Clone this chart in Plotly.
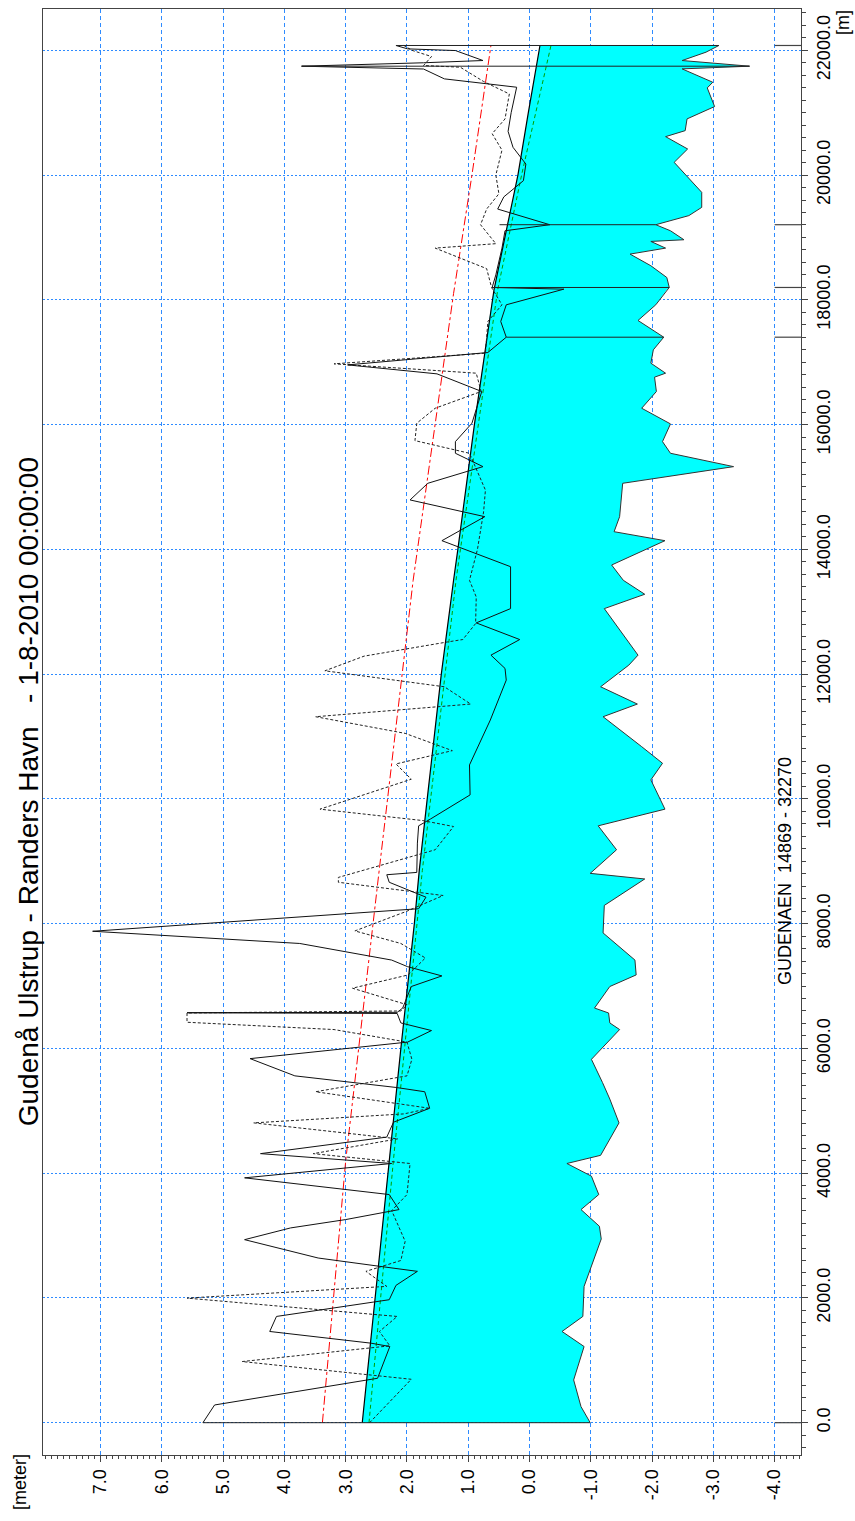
import plotly.graph_objects as go

# Chainage [m] and level [meter] of each profile line
water_chain = [0, 2000, 4220, 6000, 8000, 8849, 10000, 12000, 13504, 14000, 16000,
               18000, 18161, 19200, 20000, 21000, 22077]
water_level = [2.73, 2.52, 2.29, 2.10, 1.88, 1.80, 1.67, 1.44, 1.24, 1.17, 0.90,
               0.61, 0.58, 0.36, 0.19, 0.02, -0.17]

bed_chain = [0, 257, 685, 1221, 1462, 1703, 2185, 2506, 2945, 3149, 3416, 3657, 3952,
             4155, 4286, 4806, 5188, 5454, 5825, 6302, 6408, 6568, 6647, 6992, 7178,
             7416, 7851, 8292, 8716, 8806, 9184, 9568, 9835, 10304, 10571, 10837,
             11317, 11520, 11797, 12144, 12304, 13050, 13280, 13504, 13749, 14139,
             14283, 14524, 15059, 15326, 15540, 15727, 16011, 16262, 16530, 16760,
             16824, 16984, 17198, 17401, 17669, 17920, 18161, 18198, 18358, 18546,
             18733, 18829, 18936, 18963, 19107, 19204, 19350, 19482, 19723, 20204,
             20418, 20616, 20712, 20900, 21098, 21397, 21488, 21702, 21745, 21836,
             21970, 22077]
bed_level = [-0.99, -0.84, -0.72, -0.89, -0.53, -0.87, -0.89, -1.01, -1.17, -1.14,
             -0.84, -1.13, -1.01, -0.61, -1.16, -1.46, -1.31, -1.19, -1.01, -1.47,
             -1.31, -1.29, -1.06, -1.31, -1.74, -1.72, -1.20, -1.22, -1.88, -0.99,
             -1.42, -1.12, -2.21, -1.98, -2.17, -1.83, -1.20, -1.76, -1.16, -1.62,
             -1.77, -1.22, -1.88, -1.53, -1.34, -2.21, -1.38, -1.47, -1.52, -3.33,
             -2.30, -2.17, -2.30, -1.83, -2.07, -2.04, -2.22, -1.98, -2.02, -2.19,
             -1.77, -2.06, -2.24, -2.28, -2.24, -1.98, -1.64, -2.22, -1.98, -2.52,
             -2.30, -2.06, -2.60, -2.81, -2.81, -2.36, -2.58, -2.22, -2.54, -2.57,
             -3.02, -2.90, -2.99, -2.49, -3.59, -2.49, -2.88, -3.09]

left_chain = [0, 284, 712, 1221, 1275, 1462, 1703, 1971, 2201, 2426, 2506, 2640, 2934,
              3122, 3256, 3416, 3657, 3925, 4155, 4313, 4578, 4817, 5040, 5305, 5374,
              5560, 5836, 6101, 6286, 6408, 6560, 6565, 6572, 6578, 6647, 6992, 7162,
              7310, 7416, 7682, 7878, 8239, 8424, 8663, 8784, 8821, 9291, 9568, 9675,
              10064, 10544, 11264, 11904, 12091, 12304, 12554, 12821, 13050, 13504,
              13722, 14139, 14524, 14792, 15059, 15326, 15540, 15727, 16022, 16530,
              16813, 16957, 17155, 17401, 17653, 17920, 18171, 18198, 18400, 18829,
              19107, 19204, 19455, 19650, 19910, 20177, 20445, 20700, 21000, 21408,
              21504, 21542, 21700, 21745, 21800, 21836, 21996, 22023, 22077]
left_level = [5.33, 5.14, 2.48, 2.28, 2.59, 4.24, 4.13, 2.29, 2.18, 1.83, 2.44, 3.45,
              4.65, 3.90, 3.00, 2.13, 2.29, 4.65, 2.25, 4.39, 2.33, 2.22, 1.63, 1.71,
              2.18, 3.83, 4.56, 1.99, 1.60, 2.10, 2.16, 5.59, 5.59, 2.16, 2.07, 1.93,
              1.43, 1.99, 2.25, 3.75, 7.13, 1.81, 1.69, 2.29, 2.33, 1.84, 1.83, 1.81,
              1.62, 0.97, 0.98, 0.64, 0.38, 0.40, 0.63, 0.16, 0.87, 0.31, 0.31, 0.31,
              1.43, 0.73, 1.95, 1.66, 0.76, 1.21, 1.21, 0.94, 0.78, 1.51, 2.97, 0.68,
              0.38, 0.47, 0.38, -0.56, 0.61, 0.55, 0.45, 0.40, -0.33, 0.52, 0.42, 0.10,
              0.06, 0.27, 0.35, 0.30, 0.21, 1.02, 1.39, 1.73, 3.72, 1.73, 0.76, 1.21,
              1.99, 2.18]

right_chain = [0, 696, 980, 1232, 1462, 1703, 1997, 2185, 2426, 2600, 2908, 3400, 3657,
               4155, 4313, 4550, 4806, 4950, 5040, 5305, 5560, 5825, 6101, 6302, 6419,
               6568, 6600, 6700, 6965, 7178, 7450, 7682, 7883, 8200, 8451, 8663, 8741,
               9184, 9557, 9653, 9835, 10315, 10560, 10773, 11050, 11317, 11520, 11797,
               12053, 12288, 12517, 12554, 12810, 13237, 13504, 14000, 14600, 14950,
               15540, 15743, 16022, 16262, 16530, 16824, 16974, 17145, 17653, 17920,
               18198, 18500, 18829, 18900, 19204, 19455, 19700, 20000, 20400, 20663,
               20900, 21300, 21500, 21729, 21756, 21900, 22000, 22077]
right_level = [2.61, 1.93, 4.69, 2.28, 2.45, 2.16, 5.59, 2.33, 2.67, 2.10, 2.03, 2.25,
               2.00, 1.95, 3.53, 2.15, 4.50, 2.05, 1.63, 3.49, 2.00, 1.92, 2.00, 3.19,
               5.59, 5.59, 2.10, 2.00, 2.89, 1.98, 1.70, 2.10, 2.85, 2.00, 1.41, 3.12,
               3.12, 1.54, 1.24, 1.75, 3.42, 1.93, 2.18, 1.26, 2.03, 3.49, 0.96, 1.39,
               3.34, 2.70, 1.33, 1.09, 0.88, 0.87, 0.98, 0.85, 0.75, 0.72, 0.98, 1.87,
               1.84, 1.54, 0.79, 0.87, 3.19, 0.72, 0.68, 0.45, 0.62, 0.70, 1.54, 0.55,
               0.80, 0.70, 0.50, 0.55, 0.45, 0.61, 0.40, 0.33, 0.75, 1.13, 1.73, 1.60,
               1.92, 2.05]

red_chain = [0, 4200, 8800, 13500, 18100, 20000, 22077]
red_level = [3.38, 3.00, 2.46, 1.90, 1.24, 0.94, 0.63]

green_chain = [0, 4220, 8849, 13504, 18161, 20000, 22077]
green_level = [2.62, 2.22, 1.75, 1.20, 0.52, 0.13, -0.35]

# Vertical section / structure lines: chainage, top level, bed level
struct_chain = [0, 17401, 18198, 19204, 21745, 22077]
struct_top = [5.33, 0.38, 0.61, 0.49, 3.72, 2.18]
struct_bed = [-0.99, -2.19, -2.28, -2.06, -3.59, -3.09]
marker_chain = [0, 17401, 18198, 19204, 22077]

x_range = [7.94, -4.43]
y_range = [-518, 22662]
x_ticks = [7, 6, 5, 4, 3, 2, 1, 0, -1, -2, -3, -4]
x_ticktext = [f"{v:.1f}" for v in x_ticks]
y_ticks = list(range(0, 22001, 2000))
y_ticktext = [f"{v:.1f}" for v in y_ticks]

FONT = "Arial, Liberation Sans, sans-serif"
GRID = "#2E8BFF"

fig = go.Figure()

# cyan water body between water surface and bed
fig.add_trace(go.Scatter(
    x=water_level + bed_level[::-1],
    y=water_chain + bed_chain[::-1],
    fill="toself", fillcolor="#00FFFF", mode="none", hoverinfo="skip"))

fig.add_trace(go.Scatter(x=red_level, y=red_chain, mode="lines",
                         line=dict(color="#FF0000", width=1, dash="dashdot")))
fig.add_trace(go.Scatter(x=green_level, y=green_chain, mode="lines",
                         line=dict(color="#00A000", width=1, dash="4px,3px")))
fig.add_trace(go.Scatter(x=bed_level, y=bed_chain, mode="lines",
                         line=dict(color="#333333", width=1)))
fig.add_trace(go.Scatter(x=water_level, y=water_chain, mode="lines",
                         line=dict(color="#000000", width=1.2)))
fig.add_trace(go.Scatter(x=right_level, y=right_chain, mode="lines",
                         line=dict(color="#222222", width=1, dash="3px,2px")))
fig.add_trace(go.Scatter(x=left_level, y=left_chain, mode="lines",
                         line=dict(color="#111111", width=1)))

sx, sy = [], []
for c, t, b in zip(struct_chain, struct_top, struct_bed):
    sx += [t, b, None]
    sy += [c, c, None]
fig.add_trace(go.Scatter(x=sx, y=sy, mode="lines",
                         line=dict(color="#222222", width=1)))

mx, my = [], []
for c in marker_chain:
    mx += [x_ticks[-1], x_range[1], None]
    my += [c, c, None]
fig.add_trace(go.Scatter(x=mx, y=my, mode="lines",
                         line=dict(color="#444444", width=1.2)))

fig.update_layout(
    width=855, height=1521,
    margin=dict(l=43, r=54, t=9, b=66),
    paper_bgcolor="white", plot_bgcolor="white",
    showlegend=False,
    font=dict(family=FONT, size=18, color="black"),
    xaxis=dict(
        range=x_range, tickvals=x_ticks, ticktext=x_ticktext, tickangle=-90,
        ticks="outside", ticklen=6, tickcolor="#444",
        showline=True, linecolor="#444", linewidth=1, mirror=True,
        showgrid=True, gridcolor=GRID, gridwidth=1, griddash="4px,3px",
        zeroline=False,
        minor=dict(dtick=0.1, ticks="outside", ticklen=3, tickcolor="#444",
                   showgrid=False),
        tickfont=dict(size=18, family=FONT),
    ),
    yaxis=dict(
        range=y_range, tickvals=y_ticks, ticktext=y_ticktext, tickangle=-90,
        side="right", ticks="outside", ticklen=6, tickcolor="#444",
        showline=True, linecolor="#444", linewidth=1, mirror=True,
        showgrid=True, gridcolor=GRID, gridwidth=1, griddash="2px,2px",
        zeroline=False,
        minor=dict(dtick=200, ticks="outside", ticklen=4, tickcolor="#444",
                   showgrid=False),
        tickfont=dict(size=18, family=FONT),
    ),
    annotations=[
        dict(text="Gudenå Ulstrup - Randers Havn \u00a0 - 1-8-2010 00:00:00",
             xref="paper", yref="paper", x=-0.0198, y=0.459,
             xanchor="center", yanchor="middle", textangle=-90,
             showarrow=False, font=dict(size=28, family=FONT)),
        dict(text="GUDENAEN \u00a014869 - 32270", xref="x", yref="y",
             x=-4.17, y=8844, xanchor="center", yanchor="middle", textangle=-90,
             showarrow=False, font=dict(size=18, family=FONT)),
        dict(text="[meter]", xref="paper", yref="paper", x=-0.0303, y=-0.0187,
             xanchor="center", yanchor="middle", textangle=-90,
             showarrow=False, font=dict(size=18, family=FONT)),
        dict(text="[m]", xref="paper", yref="paper", x=1.0554, y=0.991,
             xanchor="center", yanchor="middle", textangle=-90,
             showarrow=False, font=dict(size=18, family=FONT)),
    ],
)

fig.write_html("out.html")
